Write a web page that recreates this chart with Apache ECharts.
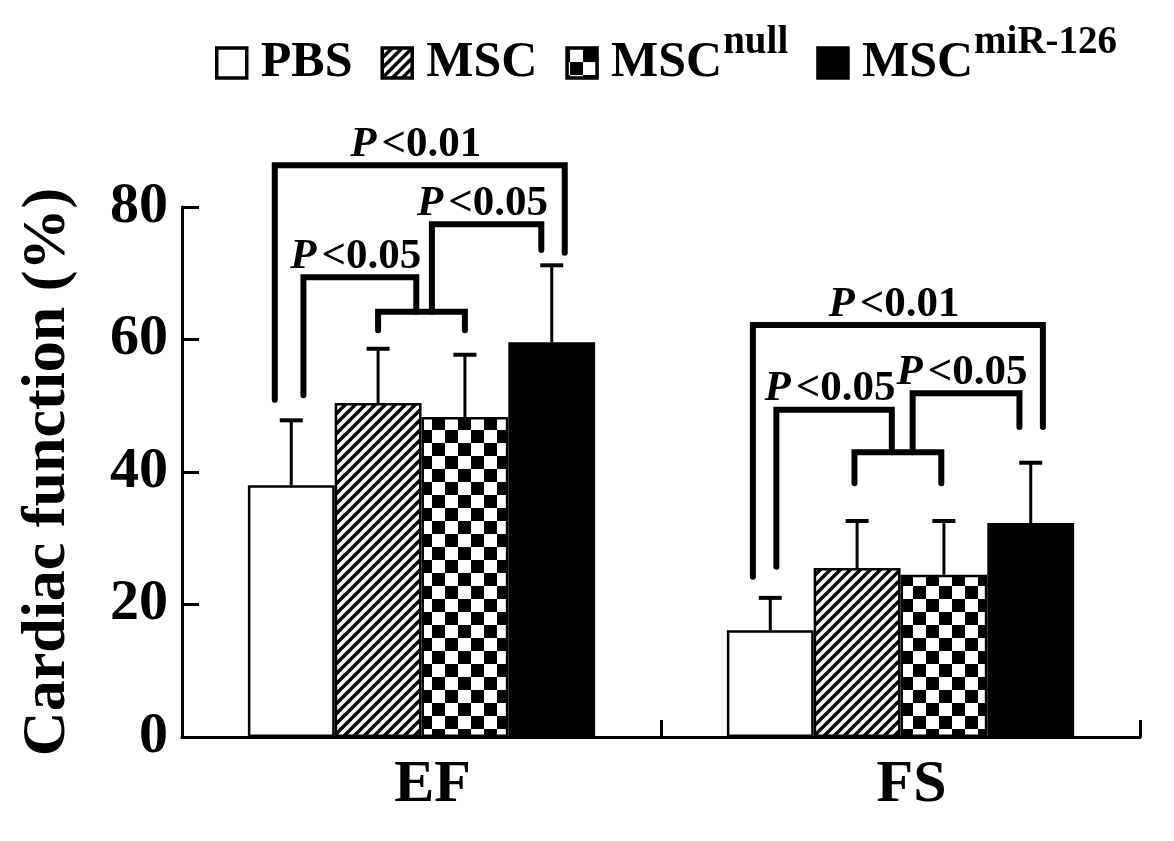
<!DOCTYPE html>
<html><head><meta charset="utf-8">
<script src="https://cdn.jsdelivr.net/npm/echarts@6/dist/echarts.min.js"></script>
<style>html,body{margin:0;padding:0;background:#fff}#c{width:1174px;height:841px}</style>
</head><body><div id="c"></div>
<script>
// ---------- data ----------
const categories = ['EF', 'FS'];
const groupNames = ['PBS', 'MSC', 'MSCnull', 'MSCmiR-126'];
const pbsMean = [38.0, 16.1];
const mscMean = [50.4, 25.5];
const mscNullMean = [48.3, 24.5];
const mscMiRMean = [59.6, 32.3];
const pbsErr = [9.8, 4.9];
const mscErr = [8.2, 7.1];
const mscNullErr = [9.4, 8.1];
const mscMiRErr = [11.6, 9.1];
const yTicks = [0, 20, 40, 60, 80];
// significance brackets: [categoryIndex, fromBarSlot, toBarSlot, topValue, leftLegBottom, rightLegBottom]
const brackets = [
  [0, -0.19, 3.15, 86.3, 50.9, 73.1],
  [0, 0.14, 1.44, 69.4, 51.6, 64.2],
  [0, 1.0, 2.0, 64.2, 61.4, 61.4],
  [0, 1.62, 2.88, 77.4, 64.2, 73.5],
  [1, -0.2, 3.14, 62.2, 24.2, 46.8],
  [1, 0.07, 1.40, 49.4, 25.7, 43.0],
  [1, 0.97, 1.97, 43.0, 38.3, 38.3],
  [1, 1.64, 2.87, 51.9, 43.0, 46.8]
];
const bracketLabels = ['<0.01', '<0.05', '', '<0.05', '<0.01', '<0.05', '', '<0.05'];

// ---------- patterns ----------
function hatch() {
  const c = document.createElement('canvas'); c.width = 10; c.height = 10;
  const g = c.getContext('2d');
  g.fillStyle = '#fff'; g.fillRect(0, 0, 10, 10);
  g.strokeStyle = '#000'; g.lineWidth = 3.4;
  g.beginPath();
  g.moveTo(-2, 12); g.lineTo(12, -2);
  g.moveTo(-7, 7); g.lineTo(7, -7);
  g.moveTo(3, 17); g.lineTo(17, 3);
  g.stroke();
  return c;
}
function checker() {
  const c = document.createElement('canvas'); c.width = 26; c.height = 26;
  const g = c.getContext('2d');
  g.fillStyle = '#fff'; g.fillRect(0, 0, 26, 26);
  g.fillStyle = '#000';
  for (let x = 0; x < 26; x++) for (let y = 0; y < 26; y++) {
    const cx = Math.floor((x + 26 - 16) / 13), cy = Math.floor((y + 26 - 1) / 13);
    if ((cx + cy) % 2 === 0) g.fillRect(x, y, 1, 1);
  }
  return c;
}
const FONT = "'Liberation Serif', 'Times New Roman', serif";
const GAP = 0.275;
const fills = ['#ffffff', { image: hatch(), repeat: 'repeat' }, { image: checker(), repeat: 'repeat' }, '#000000'];
const means = [pbsMean, mscMean, mscNullMean, mscMiRMean];
const errs = [pbsErr, mscErr, mscNullErr, mscMiRErr];

function slotX(api, cat, slot) {
  const c = api.coord([cat, 0])[0];
  const band = api.size([1, 0])[0];
  const bw = band * (1 - GAP) / 4;
  return c + (slot - 1.5) * bw;
}

const barSeries = groupNames.map((n, i) => ({
  name: n, type: 'bar', data: means[i],
  barGap: '0%', barCategoryGap: (GAP * 100) + '%',
  itemStyle: { color: fills[i], borderColor: '#000', borderWidth: 2.5 },
  emphasis: { disabled: true }, z: 2
}));

const errData = [];
means.forEach((m, s) => m.forEach((v, c) => errData.push([c, s, v, v + errs[s][c]])));

const errSeries = {
  type: 'custom', name: 'err', data: errData, z: 3, silent: true,
  encode: { x: 0, y: 3 },
  renderItem(params, api) {
    const c = api.value(0), s = api.value(1);
    const x = slotX(api, c, s);
    const y0 = api.coord([c, api.value(2)])[1];
    const y1 = api.coord([c, api.value(3)])[1];
    return { type: 'group', children: [
      { type: 'line', shape: { x1: x, y1: y0, x2: x, y2: y1 }, style: { stroke: '#000', lineWidth: 3 } },
      { type: 'line', shape: { x1: x - 11.5, y1: y1, x2: x + 11.5, y2: y1 }, style: { stroke: '#000', lineWidth: 4 } }
    ]};
  }
};

const bracketSeries = {
  type: 'custom', name: 'sig', data: brackets, z: 4, clip: false, silent: true,
  encode: { x: 0, y: 3 },
  renderItem(params, api) {
    const c = api.value(0);
    const xa = slotX(api, c, api.value(1));
    const xb = slotX(api, c, api.value(2));
    const yt = api.coord([c, api.value(3)])[1];
    const yl = api.coord([c, api.value(4)])[1];
    const yr = api.coord([c, api.value(5)])[1];
    const children = [{
      type: 'polyline',
      shape: { points: [[xa, yl], [xa, yt], [xb, yt], [xb, yr]] },
      style: { stroke: '#000', lineWidth: 6, fill: null, lineJoin: 'miter', lineCap: 'round' }
    }];
    const lab = bracketLabels[params.dataIndex];
    if (lab) {
      children.push({
        type: 'text',
        style: {
          text: '{p|P}{n|' + lab + '}', x: (xa + xb) / 2 - 4, y: yt + 1,
          align: 'center', verticalAlign: 'bottom',
          rich: {
            p: { fontFamily: FONT, fontSize: 43, fontWeight: 'bold', fontStyle: 'italic', fill: '#000', padding: [0, 5, 0, 0] },
            n: { fontFamily: FONT, fontSize: 43, fontWeight: 'bold', fill: '#000' }
          }
        }
      });
    }
    return { type: 'group', children };
  }
};

const chart = echarts.init(document.getElementById('c'), null, { renderer: 'canvas' });
chart.setOption({
  animation: false,
  backgroundColor: '#fff',
  grid: { left: 182, right: 34, top: 207, bottom: 104, outerBoundsMode: 'none' },
  legend: {
    data: groupNames, left: 210, top: 18, icon: 'rect',
    itemWidth: 30, itemHeight: 30, itemGap: 28,
    selectedMode: false,
    itemStyle: { borderWidth: 3.5, borderColor: '#000' },
    textStyle: {
      fontFamily: FONT, fontSize: 50, fontWeight: 'bold', color: '#000', padding: [0, 0, 0, 9],
      rich: {
        m: { fontFamily: FONT, fontSize: 50, fontWeight: 'bold', color: '#000' },
        s: { fontFamily: FONT, fontSize: 39, fontWeight: 'bold', color: '#000', verticalAlign: 'top', padding: [0, 0, 41, 1] }
      }
    },
    formatter(name) {
      if (name === 'MSCnull') return '{m|MSC}{s|null}';
      if (name === 'MSCmiR-126') return '{m|MSC}{s|miR-126}';
      return '{m|' + name + '}';
    }
  },
  xAxis: {
    type: 'category', data: categories,
    axisLine: { lineStyle: { color: '#000', width: 3 } },
    axisTick: { show: true, inside: true, length: 17, lineStyle: { color: '#000', width: 3 } },
    axisLabel: { fontFamily: FONT, fontSize: 60, fontWeight: 'bold', color: '#000', margin: 18, padding: [0, 0, 0, 22] },
    splitLine: { show: false }
  },
  yAxis: {
    type: 'value', min: yTicks[0], max: yTicks[yTicks.length - 1], interval: yTicks[1] - yTicks[0],
    name: 'Cardiac function (%)', nameLocation: 'middle', nameGap: 103,
    nameTextStyle: { fontFamily: FONT, fontSize: 62, fontWeight: 'bold', color: '#000' },
    axisLine: { show: true, lineStyle: { color: '#000', width: 3 } },
    axisTick: { show: true, inside: true, length: 17, lineStyle: { color: '#000', width: 3 } },
    axisLabel: { fontFamily: FONT, fontSize: 58, fontWeight: 'bold', color: '#000', margin: 14 },
    splitLine: { show: false }
  },
  series: [...barSeries, errSeries, bracketSeries]
});
</script></body></html>
